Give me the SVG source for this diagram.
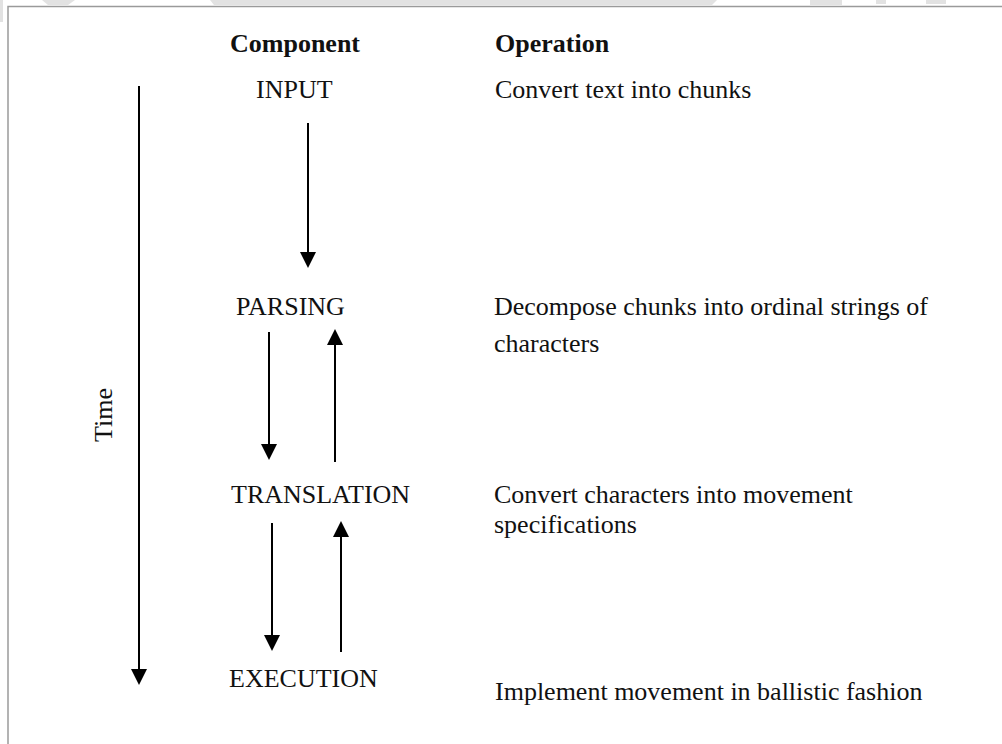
<svg xmlns="http://www.w3.org/2000/svg" width="1002" height="744" viewBox="0 0 1002 744">
  <style>
    text { font-family: "Liberation Serif", "Times New Roman", serif; font-size: 26px; fill: #111; }
    .head { font-weight: bold; }
    .conn { stroke: #000; stroke-width: 2; fill: none; marker-end: url(#arrow); }
    .frame { fill: none; stroke: #9a9a9a; stroke-width: 1.5; }
    .haze { fill: #e2e2e2; }
  </style>
  <defs>
    <marker id="arrow" viewBox="0 0 16 16" markerWidth="16" markerHeight="16" refX="2" refY="8" orient="auto" markerUnits="userSpaceOnUse">
      <path d="M0,0 L16,8 L0,16 z" fill="#000"/>
    </marker>
  </defs>

  <rect width="1002" height="744" fill="#fff"/>
  <!-- faint shapes above the frame -->
  <g id="margin-haze">
    <rect class="haze" x="0" y="0" width="3" height="22"/>
    <polygon class="haze" points="42,0 75,0 68,5 48,5"/>
    <polygon class="haze" points="210,0 717,0 712,5 214,5"/>
    <rect class="haze" x="810" y="0" width="32" height="5"/>
    <rect class="haze" x="876" y="0" width="10" height="4"/>
    <rect class="haze" x="926" y="0" width="20" height="4"/>
  </g>

  <!-- page frame, running off the right and bottom edges -->
  <path class="frame" d="M8,800 L8,6.5 L1010,6.5"/>

  <g id="headers">
    <text class="head" x="230" y="52">Component</text>
    <text class="head" x="495" y="52">Operation</text>
  </g>

  <g id="time">
    <text transform="translate(112,415) rotate(-90)" text-anchor="middle">Time</text>
  </g>

  <g id="input">
    <text x="256" y="98">INPUT</text>
    <text x="495" y="98">Convert text into chunks</text>
  </g>

  <g id="parsing">
    <text x="236" y="315">PARSING</text>
    <text x="494" y="315">Decompose chunks into ordinal strings of</text>
    <text x="494" y="352">characters</text>
  </g>

  <g id="translation">
    <text x="231" y="503">TRANSLATION</text>
    <text x="494" y="503">Convert characters into movement</text>
    <text x="494" y="533">specifications</text>
  </g>

  <g id="execution">
    <text x="229" y="687">EXECUTION</text>
    <text x="495" y="700">Implement movement in ballistic fashion</text>
  </g>

  <g id="connectors">
    <!-- time axis -->
    <line class="conn" x1="139" y1="86" x2="139" y2="671"/>
    <!-- input to parsing -->
    <line class="conn" x1="308" y1="123" x2="308" y2="254"/>
    <!-- parsing <-> translation -->
    <line class="conn" x1="269" y1="332" x2="269" y2="446"/>
    <line class="conn" x1="335" y1="462" x2="335" y2="343"/>
    <!-- translation <-> execution -->
    <line class="conn" x1="272" y1="523" x2="272" y2="637"/>
    <line class="conn" x1="341" y1="652" x2="341" y2="535"/>
  </g>
</svg>
